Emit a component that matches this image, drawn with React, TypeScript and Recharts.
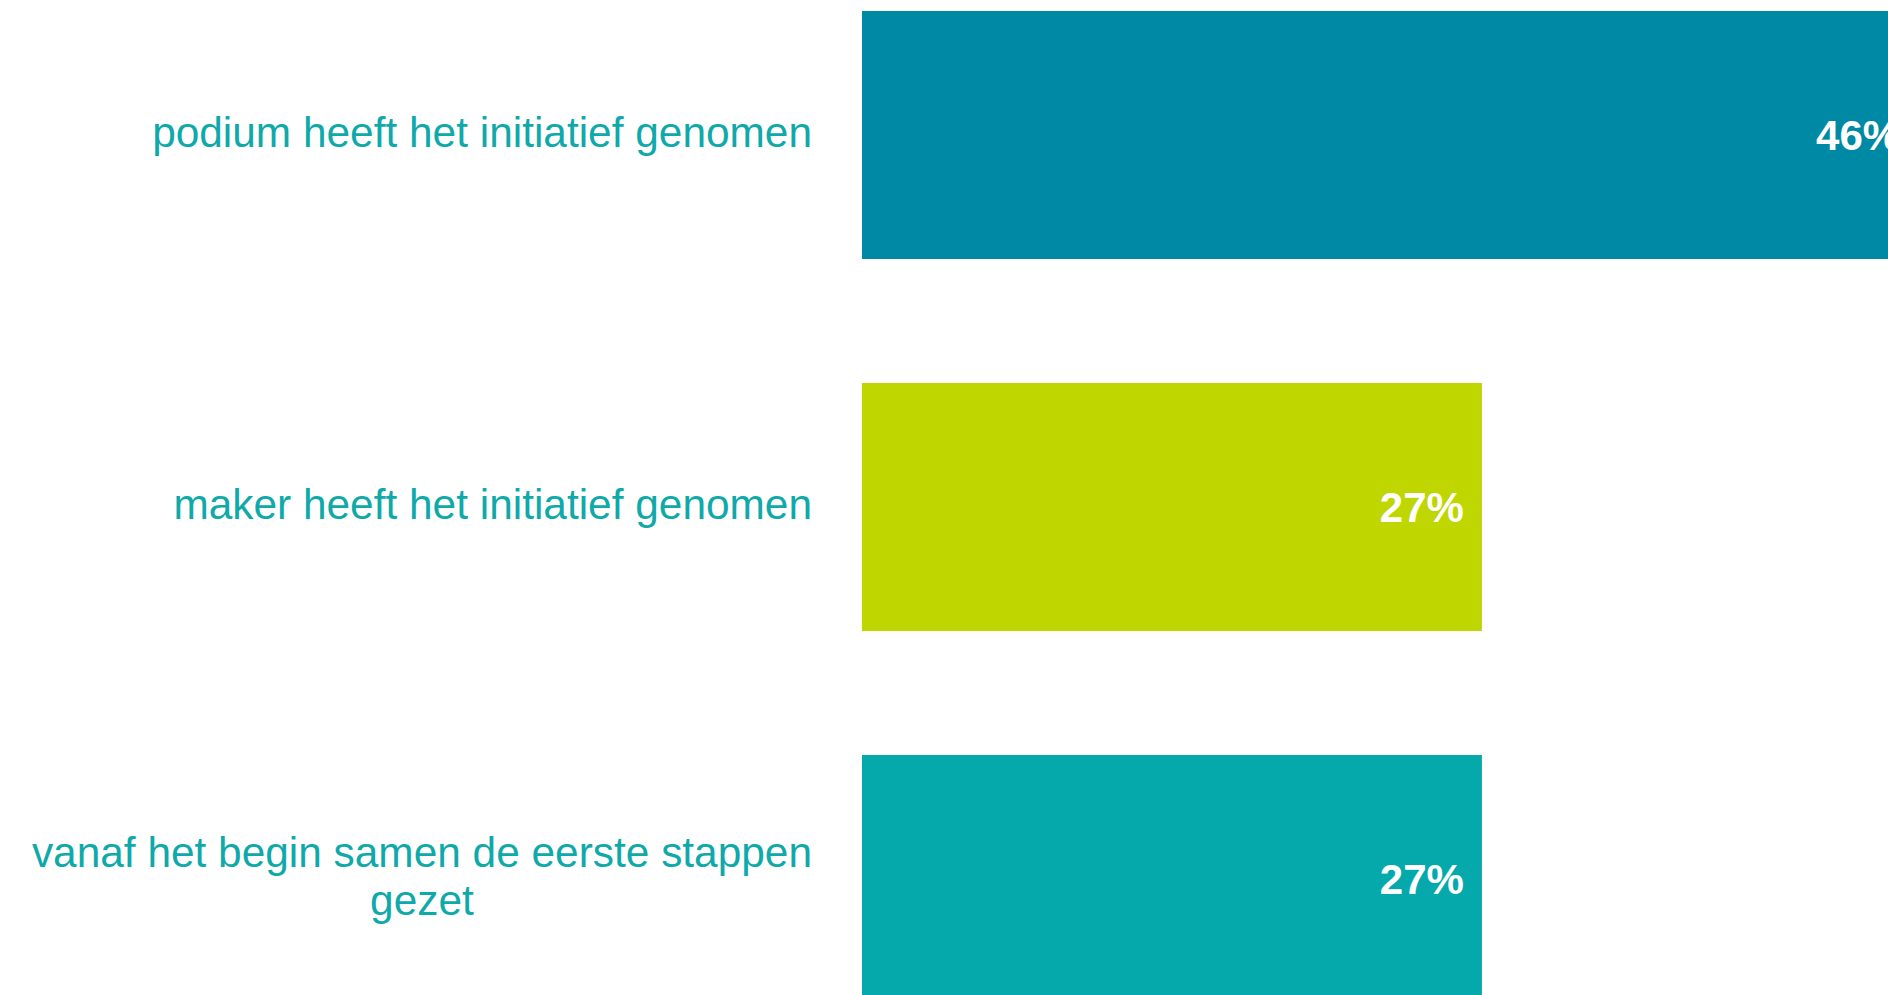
import { Bar, BarChart, Cell, LabelList, XAxis, YAxis } from "recharts";

const CATEGORIES = [
  "podium heeft het initiatief genomen",
  "maker heeft het initiatief genomen",
  "vanaf het begin samen de eerste stappen gezet",
];
const SHARES = [46, 27, 27];
const BAR_COLORS = ["#0089a4", "#bfd600", "#05a9ab"];

const data = CATEGORIES.map((name, i) => ({ name, value: SHARES[i] }));

const LABEL_FONT = "42.4px 'Liberation Sans', Arial, sans-serif";
const LINE_HEIGHT = 48;
const MAX_LABEL_WIDTH = 810;

let ctx: CanvasRenderingContext2D | null = null;
function measure(text: string): number {
  if (!ctx) {
    ctx = document.createElement("canvas").getContext("2d");
  }
  if (!ctx) return text.length * 19;
  ctx.font = LABEL_FONT;
  return ctx.measureText(text).width;
}

function wrap(text: string): string[] {
  const words = text.split(" ");
  const lines: string[] = [];
  let current = "";
  for (const word of words) {
    const next = current ? `${current} ${word}` : word;
    if (current && measure(next) > MAX_LABEL_WIDTH) {
      lines.push(current);
      current = word;
    } else {
      current = next;
    }
  }
  if (current) lines.push(current);
  return lines;
}

// multi-line labels are centred as a block, the block sits right-aligned to the axis
function CategoryTick(props: any) {
  const { x, y, payload } = props;
  const lines = wrap(String(payload.value));
  const widest = Math.max(...lines.map(measure));
  const cx = x - widest / 2;
  const firstBaseline = y - ((lines.length - 1) / 2) * LINE_HEIGHT + 12;
  return (
    <text textAnchor="middle" fill="#0fa9aa" style={{ font: LABEL_FONT }}>
      {lines.map((line, i) => (
        <tspan key={i} x={cx} y={firstBaseline + i * LINE_HEIGHT}>
          {line}
        </tspan>
      ))}
    </text>
  );
}

export default function App() {
  return (
    <div
      style={{
        position: "fixed",
        left: 0,
        top: 0,
        width: 1888,
        height: 995,
        overflow: "hidden",
        background: "#ffffff",
      }}
    >
      <div style={{ position: "absolute", left: 0, top: -51 }}>
        <BarChart
          width={2010}
          height={1116}
          data={data}
          layout="vertical"
          margin={{ top: 0, right: 0, bottom: 0, left: 0 }}
          barCategoryGap="16.67%"
        >
          <XAxis type="number" domain={[0, 50]} hide />
          <YAxis
            type="category"
            dataKey="name"
            width={862}
            axisLine={false}
            tickLine={false}
            tickSize={0}
            tickMargin={50}
            tick={<CategoryTick />}
            interval={0}
          />
          <Bar dataKey="value" isAnimationActive={false}>
            {data.map((entry, i) => (
              <Cell key={entry.name} fill={BAR_COLORS[i]} />
            ))}
            <LabelList
              dataKey="value"
              position="insideRight"
              offset={18}
              formatter={(v: any) => `${v}%`}
              fill="#ffffff"
              style={{ font: "bold 42px 'Liberation Sans', Arial, sans-serif" }}
            />
          </Bar>
        </BarChart>
      </div>
    </div>
  );
}
